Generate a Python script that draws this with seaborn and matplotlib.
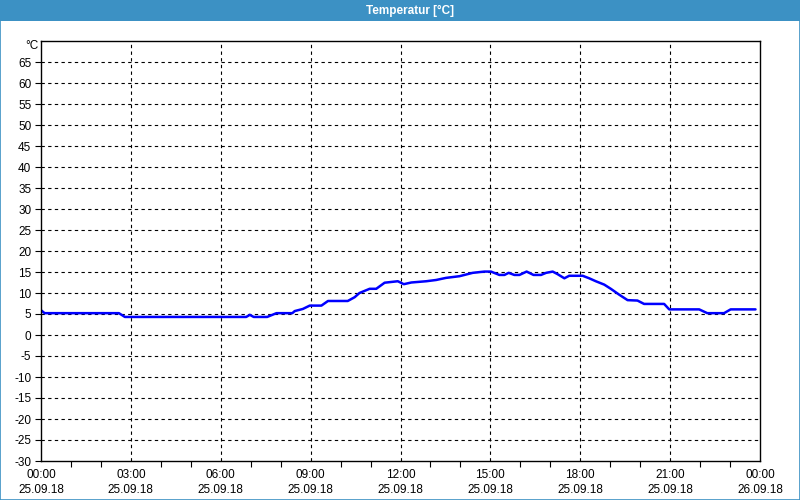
import matplotlib
matplotlib.use("Agg")
import matplotlib.pyplot as plt
import matplotlib.patches as patches
import numpy as np
import pandas as pd
import seaborn as sns

# temperature log (hours since 25.09.18 00:00)
hours = [0.0, 0.12, 2.6, 2.8, 6.85, 6.97, 7.1, 7.55, 7.86, 8.39, 8.47, 8.74, 8.97,
         9.36, 9.58, 10.24, 10.47, 10.63, 10.97, 11.19, 11.47, 11.91, 12.11, 12.36,
         12.86, 13.19, 13.52, 13.97, 14.41, 14.8, 15.02, 15.3, 15.47, 15.61, 15.8,
         15.97, 16.21, 16.44, 16.69, 16.86, 17.08, 17.24, 17.47, 17.63, 18.08, 18.3,
         18.52, 18.8, 19.02, 19.3, 19.58, 19.91, 20.13, 20.8, 20.97, 21.97, 22.24,
         22.8, 23.02, 23.85]
temps = [5.9, 5.2, 5.2, 4.3, 4.3, 4.8, 4.3, 4.3, 5.2, 5.2, 5.7, 6.2, 7.0,
         7.0, 8.1, 8.1, 9.0, 10.0, 11.0, 11.0, 12.45, 12.8, 12.1, 12.5,
         12.8, 13.1, 13.6, 14.0, 14.8, 15.1, 15.1, 14.3, 14.3, 14.8, 14.3,
         14.3, 15.1, 14.3, 14.3, 14.8, 15.1, 14.5, 13.5, 14.1, 14.1, 13.5,
         12.8, 12.0, 11.0, 9.6, 8.3, 8.2, 7.4, 7.4, 6.1, 6.1, 5.2,
         5.2, 6.1, 6.1]

x_ticks = [0, 3, 6, 9, 12, 15, 18, 21, 24]
x_labels = ["00:00\n25.09.18", "03:00\n25.09.18", "06:00\n25.09.18", "09:00\n25.09.18",
            "12:00\n25.09.18", "15:00\n25.09.18", "18:00\n25.09.18", "21:00\n25.09.18",
            "00:00\n26.09.18"]
y_ticks = list(range(-30, 70, 5))

df = pd.DataFrame({"hour": hours, "temp": temps})

sns.set_style("white")
plt.rcParams["font.family"] = ["Liberation Sans", "DejaVu Sans"]
plt.rcParams["axes.unicode_minus"] = False

fig = plt.figure(figsize=(8, 5), dpi=100)
fig.patch.set_facecolor("white")

# title bar + window border
frame_blue = "#3c91c4"
fig.add_artist(patches.Rectangle((0, 1 - 21 / 500), 1, 21 / 500, transform=fig.transFigure,
                                 facecolor=frame_blue, edgecolor="none"))
fig.add_artist(patches.Rectangle((0.0006, 0.001), 0.9988, 0.998, transform=fig.transFigure,
                                 facecolor="none", edgecolor=frame_blue, linewidth=1.2))
fig.text(410 / 800, 1 - 10.5 / 500, "Temperatur [°C]", ha="center", va="center",
         color="white", fontsize=8.5, fontweight="bold")

ax = fig.add_axes([41 / 800, 39 / 500, 719 / 800, 420 / 500])
sns.lineplot(data=df, x="hour", y="temp", ax=ax, color="#0000ff", linewidth=1.8)

ax.set_xlim(0, 24)
ax.set_ylim(-30, 70)
ax.set_xticks(x_ticks)
ax.set_xticklabels(x_labels)
ax.set_xticks(range(0, 25), minor=True)
ax.set_yticks(y_ticks)
ax.set_xlabel("")
ax.set_ylabel("")

for v in x_ticks[1:-1]:
    ax.axvline(v, color="black", linestyle=(0, (3, 3)), linewidth=0.8, zorder=0)
for v in y_ticks[1:]:
    ax.axhline(v, color="black", linestyle=(0, (3, 3)), linewidth=0.8, zorder=0)

for s in ax.spines.values():
    s.set_color("black")
    s.set_linewidth(1.0)

ax.tick_params(axis="both", which="both", direction="out", length=4, width=0.8,
               color="black", labelsize=8.5, labelcolor="black", pad=3)
ax.tick_params(axis="x", which="major", pad=2)
ax.tick_params(axis="y", which="major", left=True)
ax.tick_params(axis="x", which="minor", bottom=True)
for lbl in ax.get_xticklabels():
    lbl.set_linespacing(1.35)

fig.text(38 / 800, 1 - 46 / 500, "°C", ha="right", va="center", fontsize=8.5, color="black")

fig.savefig("out.png", dpi=100, facecolor=fig.get_facecolor())
